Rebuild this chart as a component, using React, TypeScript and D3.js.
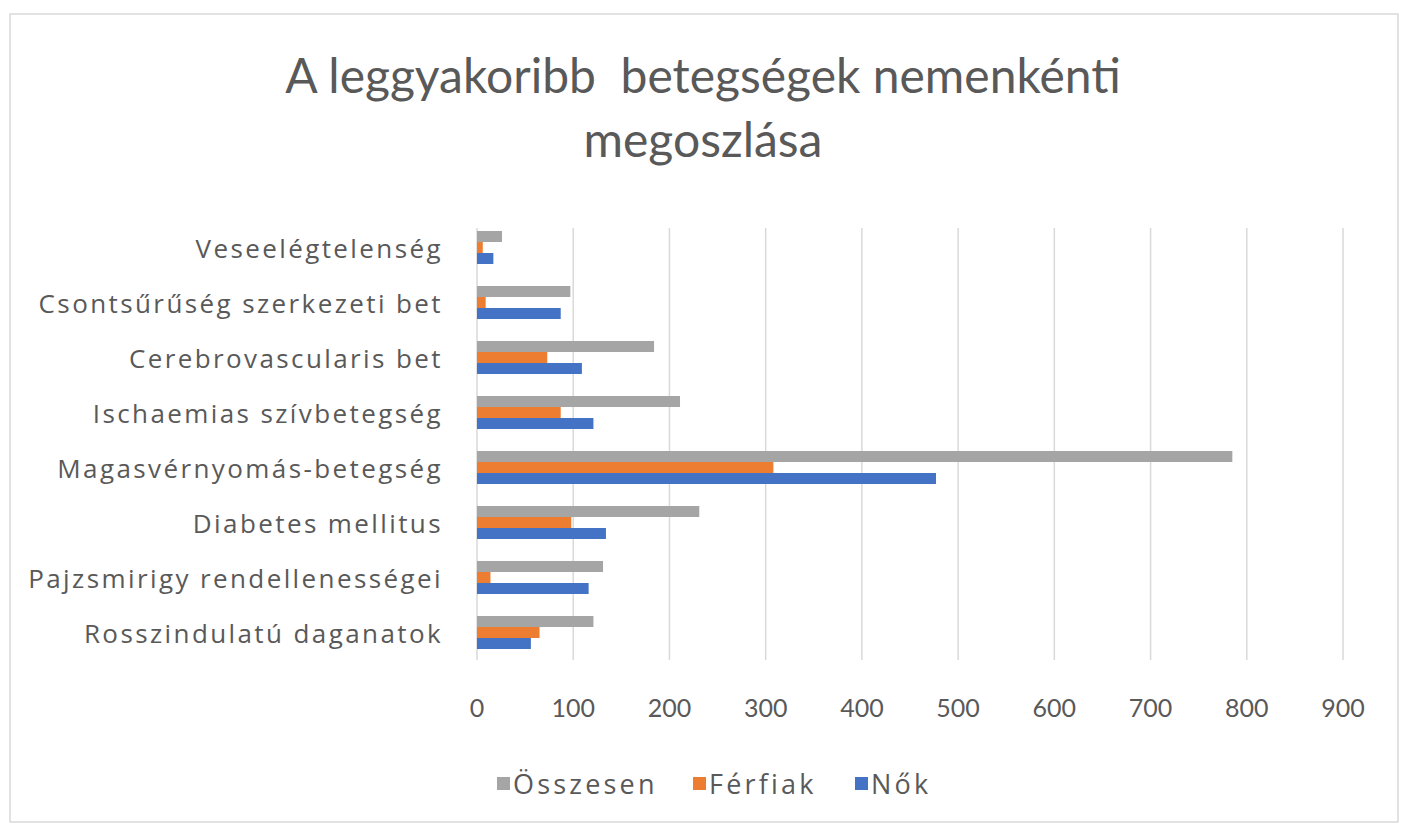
import * as d3 from 'd3';
import React from 'react';

const categories = [
  'Veseelégtelenség',
  'Csontsűrűség szerkezeti bet',
  'Cerebrovascularis bet',
  'Ischaemias szívbetegség',
  'Magasvérnyomás-betegség',
  'Diabetes mellitus',
  'Pajzsmirigy rendellenességei',
  'Rosszindulatú daganatok',
];

const series = ['Összesen', 'Férfiak', 'Nők'];
const osszesen = [26, 97, 184, 211, 785, 231, 131, 121];
const ferfiak = [6, 9, 73, 87, 308, 98, 14, 65];
const nok = [17, 87, 109, 121, 477, 134, 116, 56];
const xTicks = [0, 100, 200, 300, 400, 500, 600, 700, 800, 900];

const colors: Record<string, string> = {
  'Összesen': '#A5A5A5',
  'Férfiak': '#ED7D31',
  'Nők': '#4472C4',
};

const values: Record<string, number[]> = {
  'Összesen': osszesen,
  'Férfiak': ferfiak,
  'Nők': nok,
};

const W = 1403;
const H = 831;
const FONT = 'Lato, "Open Sans", sans-serif';
const LABEL_FONT = '"Open Sans", Lato, sans-serif';
const TEXT = '#595959';

export default function App() {
  const x = d3.scaleLinear().domain([0, 900]).range([477, 1343]);
  const y = d3.scaleBand().domain(categories).range([220, 660]).padding(0);
  const inner = d3.scaleBand().domain(series).range([0, y.step()]).paddingInner(0).paddingOuter(1);

  // legend items laid out left to right
  const legendX = [497, 693, 855];

  return (
    <svg width={W} height={H} style={{ position: 'absolute', left: 0, top: 0, background: '#fff' }}>
      <rect x={10} y={14} width={1388} height={808} fill="#fff" stroke="#d9d9d9" strokeWidth={1.5} />

      <text x={703} y={93} textAnchor="middle" fontFamily={FONT} fontSize={48} fill={TEXT} style={{ whiteSpace: 'pre' }}>
        {'A leggyakoribb  betegségek nemenkénti'}
      </text>
      <text x={703} y={157} textAnchor="middle" fontFamily={FONT} fontSize={48} fill={TEXT}>
        megoszlása
      </text>

      {/* gridlines */}
      {xTicks.map((t) => (
        <line key={t} x1={x(t)} x2={x(t)} y1={228} y2={660} stroke="#d9d9d9" strokeWidth={1.5} />
      ))}

      {/* bars */}
      {series.map((s) =>
        categories.map((c, i) => (
          <rect
            key={s + c}
            x={x(0)}
            y={(y(c) ?? 0) + (inner(s) ?? 0)}
            width={x(values[s][i]) - x(0)}
            height={inner.bandwidth()}
            fill={colors[s]}
          />
        ))
      )}

      {/* category labels */}
      {categories.map((c) => (
        <text
          key={c}
          x={443}
          y={(y(c) ?? 0) + y.bandwidth() / 2}
          textAnchor="end"
          dominantBaseline="central"
          fontFamily={LABEL_FONT}
          fontSize={26}
          letterSpacing={2.4}
          fill={TEXT}
        >
          {c}
        </text>
      ))}

      {/* x tick labels */}
      {xTicks.map((t) => (
        <text
          key={t}
          x={x(t)}
          y={707}
          textAnchor="middle"
          dominantBaseline="central"
          fontFamily={FONT}
          fontSize={25}
          fill={TEXT}
        >
          {t}
        </text>
      ))}

      {/* legend */}
      {series.map((s, i) => (
        <g key={s} transform={`translate(${legendX[i]},783)`}>
          <rect x={0} y={-6} width={13} height={13} fill={colors[s]} />
          <text x={16} y={0} dominantBaseline="central" fontFamily={LABEL_FONT} fontSize={27} letterSpacing={3.2} fill={TEXT}>
            {s}
          </text>
        </g>
      ))}
    </svg>
  );
}
